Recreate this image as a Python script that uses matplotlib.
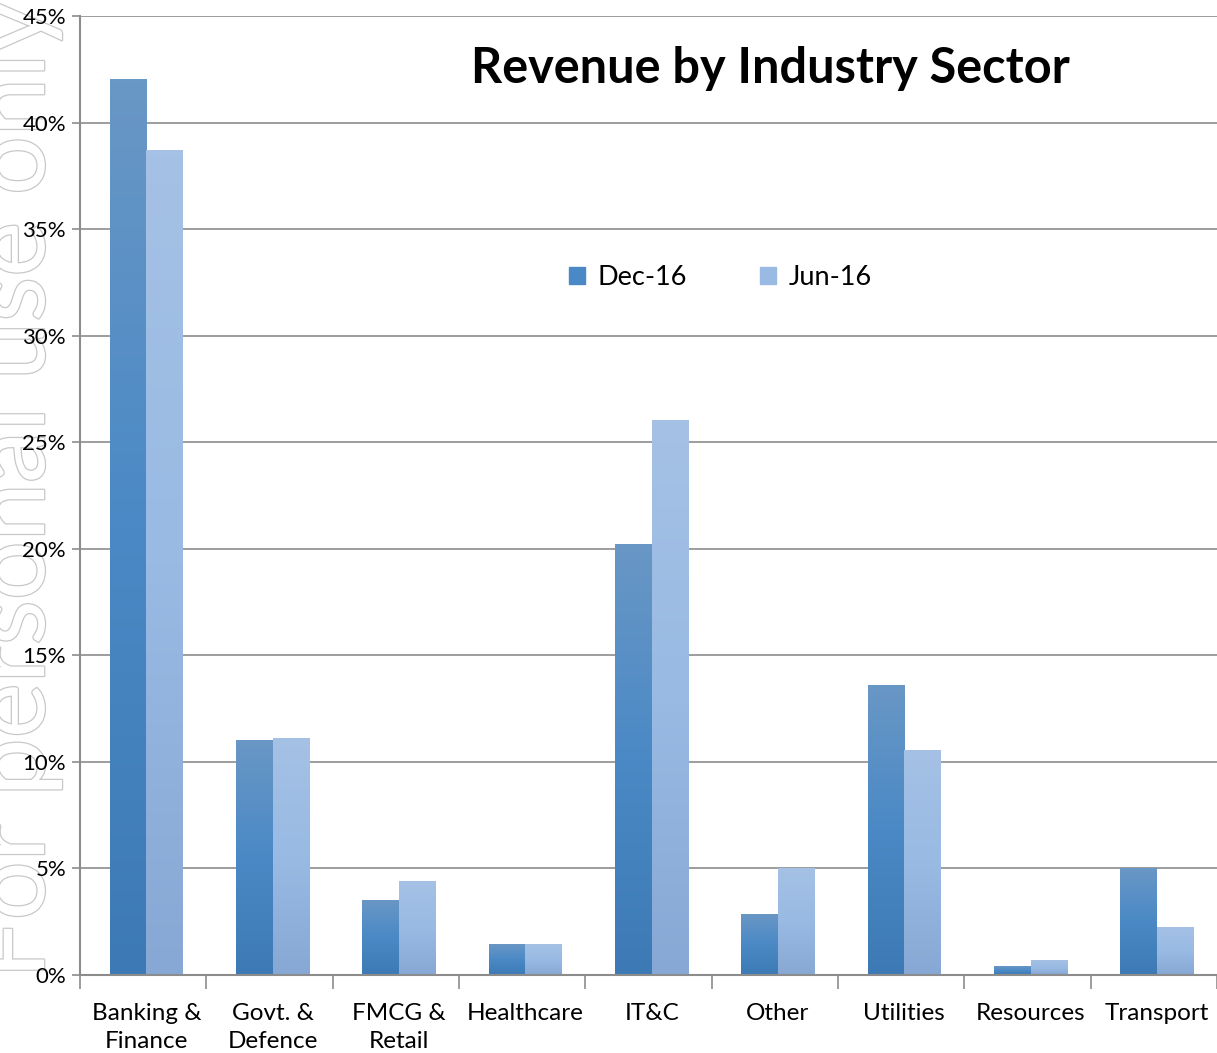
import numpy as np
import matplotlib
matplotlib.use("Agg")
import matplotlib.pyplot as plt
import matplotlib.patheffects as pe
from matplotlib.colors import LinearSegmentedColormap
from matplotlib.ticker import FuncFormatter, MultipleLocator

# === DATA ===
categories = ["Banking &\nFinance", "Govt. &\nDefence", "FMCG &\nRetail", "Healthcare",
              "IT&C", "Other", "Utilities", "Resources", "Transport"]
dec16 = [42.0, 11.0, 3.5, 1.45, 20.2, 2.85, 13.6, 0.38, 5.0]
jun16 = [38.7, 11.1, 4.4, 1.45, 26.0, 5.0, 10.55, 0.7, 2.25]
series_names = ["Dec-16", "Jun-16"]

# === STYLE ===
FONT = ["Lato", "DejaVu Sans"]
plt.rcParams['font.family'] = FONT

dec_cmap = LinearSegmentedColormap.from_list("dec", ["#3d7ab5", "#4a89c5", "#6997c6"])
jun_cmap = LinearSegmentedColormap.from_list("jun", ["#87a8d4", "#98bae3", "#a5c1e5"])
grad = np.linspace(0, 1, 256).reshape(-1, 1)

fig = plt.figure(figsize=(12.17, 10.53), dpi=100)
ax = fig.add_axes([80 / 1217, 1 - 975 / 1053, 1 - 80 / 1217, (975 - 16) / 1053])
ax.set_facecolor("none")

# === BARS (per-bar vertical gradient) ===
width = 0.29
shift = 0.025
x = np.arange(len(categories))
for vals, cmap, off in [(dec16, dec_cmap, -width / 2), (jun16, jun_cmap, width / 2)]:
    for xi, v in zip(x, vals):
        x0 = xi + shift + off - width / 2
        ax.imshow(grad, cmap=cmap, origin="lower", aspect="auto",
                  extent=[x0, x0 + width, 0, v], zorder=2, interpolation="bilinear")

ax.set_xlim(-0.5, len(categories) - 0.5)
ax.set_ylim(0, 45)
ax.yaxis.set_major_locator(MultipleLocator(5))
ax.yaxis.set_major_formatter(FuncFormatter(lambda v, p: f"{v:.0f}%"))
ax.grid(axis="y", color="#8c8c8c", linewidth=1.2, zorder=0)
ax.set_axisbelow(True)

for s in ["top", "right"]:
    ax.spines[s].set_visible(False)
ax.spines["left"].set_color("#8c8c8c")
ax.spines["left"].set_linewidth(1.5)
ax.spines["bottom"].set_color("#8c8c8c")
ax.spines["bottom"].set_linewidth(1.5)

ax.set_xticks(x + shift)
ax.set_xticklabels(categories, fontsize=17.5, linespacing=1.45)
ax.set_xticks(np.arange(-0.5, len(categories)), minor=True)
ax.tick_params(axis="x", which="major", length=0, pad=20)
ax.tick_params(axis="x", which="minor", length=10, color="#8c8c8c", width=1.2)
ax.tick_params(axis="y", length=6, color="#8c8c8c", width=1.2, labelsize=16, pad=4)

# === LEGEND ===
handles = [plt.Rectangle((0, 0), 1, 1, color=dec_cmap(0.5)),
           plt.Rectangle((0, 0), 1, 1, color=jun_cmap(0.5))]
ax.legend(handles, series_names, loc="center", bbox_to_anchor=(0.563, 0.727), ncol=2,
          frameon=False, fontsize=19.5, handlelength=0.6, handleheight=0.6,
          handletextpad=0.45, columnspacing=2.7)

ax.text(0.607, 0.945, "Revenue by Industry Sector", transform=ax.transAxes,
        ha="center", va="center", fontsize=35, fontweight="bold")

# === WATERMARK ===
fig.text(0.012, 0.535, "For personal use only", rotation=90, ha="center", va="center",
         fontsize=75, color="white", zorder=-1,
         path_effects=[pe.withStroke(linewidth=1.8, foreground="#c8c8c8")])

plt.savefig("out.png", dpi=100)
